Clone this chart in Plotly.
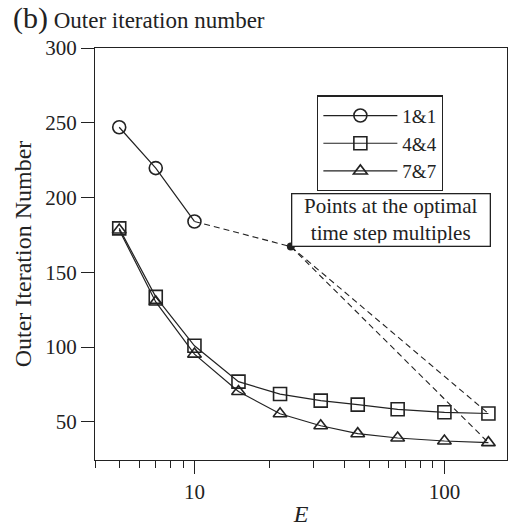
import math
import plotly.graph_objects as go

# ---- data ----
E_11 = [5, 7, 10]
N_11 = [247, 219.7, 184]

E_44 = [5, 7, 10, 15, 22, 32, 45, 65, 100, 150]
N_44 = [179.4, 133.6, 100.9, 76.9, 68.6, 64.2, 61.5, 58.4, 56.4, 55.6]

E_77 = [5, 7, 10, 15, 22, 32, 45, 65, 100, 150]
N_77 = [178.3, 130.2, 95.3, 70.3, 55.4, 47.4, 42.1, 39.2, 37.2, 36.1]

# point marking the optimal time step multiples
E_opt = 24.3
N_opt = 167.2

x_major = [10, 100]
x_major_text = ["10", "100"]
x_minor = [4, 5, 6, 7, 8, 9, 20, 30, 40, 50, 60, 70, 80, 90]
y_ticks = [50, 100, 150, 200, 250, 300]

FONT = "Liberation Serif"
INK = "#222222"

fig = go.Figure()

# dashed guide lines through the optimal point
fig.add_trace(go.Scatter(x=[E_11[-1], E_opt, E_44[-1]], y=[N_11[-1], N_opt, N_44[-1]],
                         mode="lines", line=dict(color=INK, width=1.1, dash="6px,4px"),
                         showlegend=False, hoverinfo="skip"))
fig.add_trace(go.Scatter(x=[E_opt, E_77[-1]], y=[N_opt, N_77[-1]],
                         mode="lines", line=dict(color=INK, width=1.1, dash="6px,4px"),
                         showlegend=False, hoverinfo="skip"))

fig.add_trace(go.Scatter(x=E_11, y=N_11, name="1&1", mode="lines+markers",
                         line=dict(color=INK, width=1.2),
                         marker=dict(symbol="circle-open", size=13, color=INK, line=dict(width=1.6))))
fig.add_trace(go.Scatter(x=E_44, y=N_44, name="4&4", mode="lines+markers",
                         line=dict(color=INK, width=1.2),
                         marker=dict(symbol="square-open", size=13, color=INK, line=dict(width=1.6))))
fig.add_trace(go.Scatter(x=E_77, y=N_77, name="7&7", mode="lines+markers",
                         line=dict(color=INK, width=1.2),
                         marker=dict(symbol="triangle-up-open", size=12, color=INK, line=dict(width=1.6))))

fig.add_trace(go.Scatter(x=[E_opt], y=[N_opt], mode="markers",
                         marker=dict(symbol="circle", size=8, color=INK),
                         showlegend=False, hoverinfo="skip"))

fig.add_annotation(x=math.log10(E_opt), y=N_opt, xref="x", yref="y",
                   text="Points at the optimal<br>time step multiples",
                   showarrow=False, xanchor="left", yanchor="bottom",
                   font=dict(family=FONT, size=21, color=INK),
                   width=193, height=47, align="center", valign="middle",
                   bordercolor=INK, borderwidth=1.3, borderpad=2, bgcolor="white")

fig.update_layout(
    width=510, height=527,
    margin=dict(l=95, r=2, t=48, b=64),
    paper_bgcolor="white", plot_bgcolor="white",
    font=dict(family=FONT, color=INK),
    title=dict(text='<span style="font-size:30px">(b)</span> Outer iteration number',
               x=13 / 510, xanchor="left", xref="container",
               y=1 - 20 / 527, yanchor="middle", yref="container",
               font=dict(family=FONT, size=23, color=INK)),
    legend=dict(x=0.539, y=0.885, xanchor="left", yanchor="top",
                bordercolor=INK, borderwidth=1.3, bgcolor="white",
                font=dict(family=FONT, size=19, color=INK), itemwidth=74,
                tracegroupgap=0),
    showlegend=True,
)

fig.update_xaxes(type="log", range=[math.log10(4), math.log10(178)],
                 tickmode="array", tickvals=x_major, ticktext=x_major_text,
                 ticks="outside", ticklen=13, tickwidth=1.3, tickcolor=INK,
                 minor=dict(tickmode="array", tickvals=x_minor, ticks="outside",
                            ticklen=7, tickwidth=1.3, tickcolor=INK, showgrid=False),
                 showline=True, linecolor=INK, linewidth=1.3, mirror=True,
                 showgrid=False, zeroline=False,
                 tickfont=dict(family=FONT, size=21, color=INK),
                 title=dict(text="<i>E</i>", font=dict(family=FONT, size=24, color=INK), standoff=4))
fig.update_yaxes(range=[24.5, 300], tickmode="array", tickvals=y_ticks,
                 ticks="outside", ticklen=13, tickwidth=1.3, tickcolor=INK,
                 showline=True, linecolor=INK, linewidth=1.3, mirror=True,
                 showgrid=False, zeroline=False,
                 tickfont=dict(family=FONT, size=21, color=INK),
                 title=dict(text="Outer Iteration Number", font=dict(family=FONT, size=24, color=INK),
                            standoff=6))

fig.write_html("out.html")
